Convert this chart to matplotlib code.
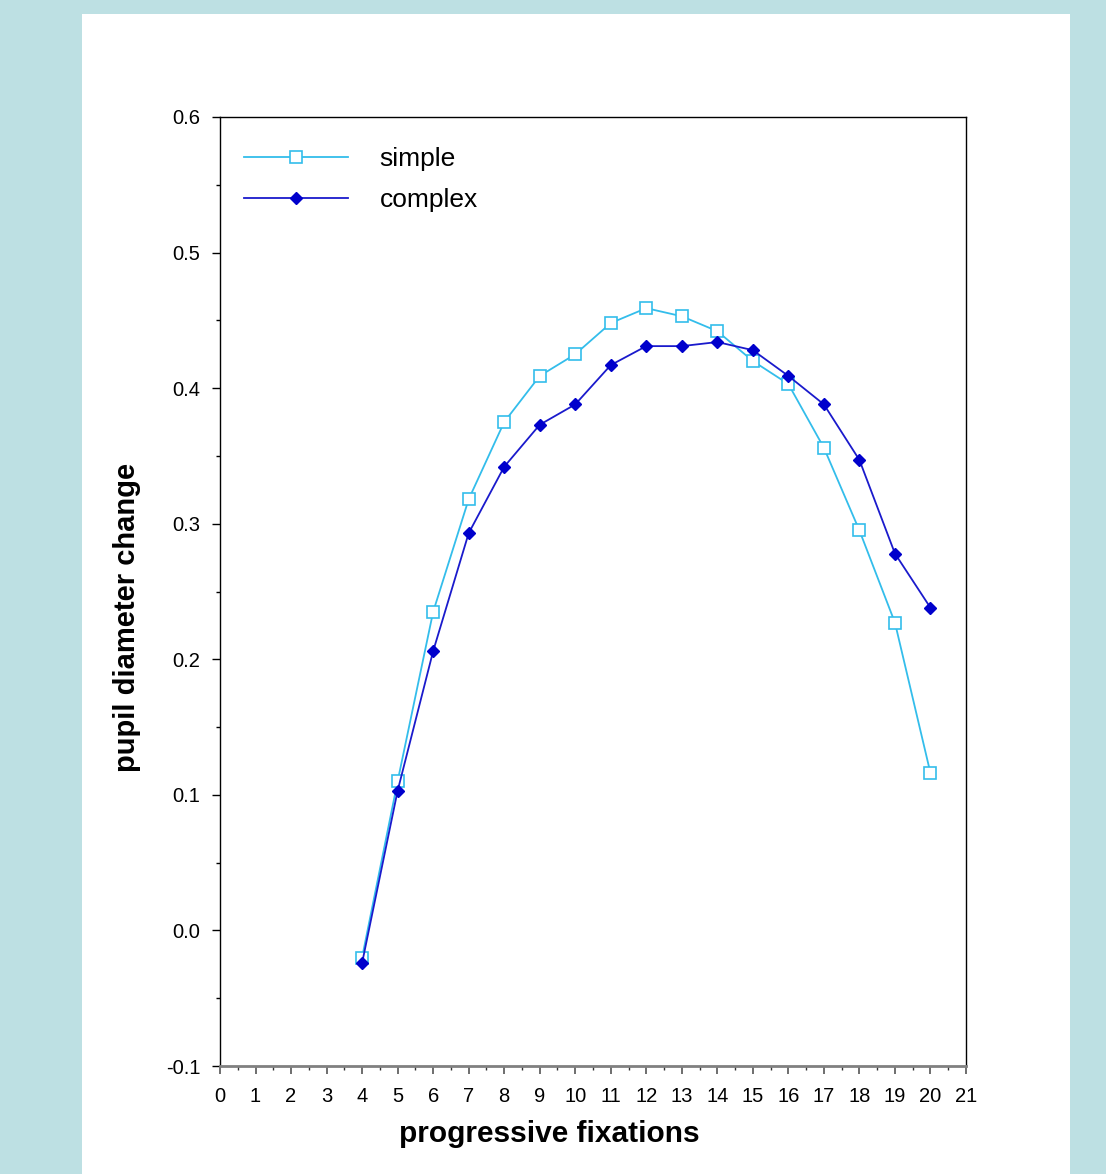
import matplotlib
matplotlib.use("Agg")
import matplotlib.pyplot as plt
from matplotlib.patches import Rectangle
from matplotlib.ticker import MultipleLocator

fixations = [4, 5, 6, 7, 8, 9, 10, 11, 12, 13, 14, 15, 16, 17, 18, 19, 20]
simple = [-0.020, 0.110, 0.235, 0.318, 0.375, 0.409, 0.425, 0.448, 0.459, 0.453,
          0.442, 0.420, 0.403, 0.356, 0.295, 0.227, 0.116]
complex_ = [-0.024, 0.103, 0.206, 0.293, 0.342, 0.373, 0.388, 0.417, 0.431, 0.431,
            0.434, 0.428, 0.409, 0.388, 0.347, 0.278, 0.238]
x_ticks = list(range(0, 22))
y_ticks = [-0.1, 0.0, 0.1, 0.2, 0.3, 0.4, 0.5, 0.6]

plt.rcParams['font.family'] = ['Liberation Sans', 'DejaVu Sans']

fig = plt.figure(figsize=(11.06, 11.74), dpi=100)
fig.patch.set_facecolor('#BDE0E3')
fig.patches.append(Rectangle((82 / 1106, 0), (1070 - 82) / 1106, 1 - 14 / 1174,
                             transform=fig.transFigure, facecolor='white',
                             edgecolor='none', zorder=-10))

ax = fig.add_axes([220 / 1106, 1 - 1066 / 1174, (966 - 220) / 1106, (1066 - 117) / 1174])
ax.set_zorder(1)
ax.set_facecolor('white')

ax.plot(fixations, simple, color='#33BDEB', lw=1.3, marker='s', markersize=8,
        markerfacecolor='white', markeredgecolor='#33BDEB', markeredgewidth=1.2,
        label='simple', zorder=3)
ax.plot(fixations, complex_, color='#1A1ACC', lw=1.3, marker='D', markersize=6,
        markerfacecolor='#0000CC', markeredgecolor='#0000CC',
        label='complex', zorder=4)

ax.set_xlim(0, 21)
ax.set_ylim(-0.1, 0.6)
ax.set_xticks(x_ticks)
ax.set_yticks(y_ticks)
ax.set_yticklabels([f"{v:.1f}" for v in y_ticks])
ax.xaxis.set_minor_locator(MultipleLocator(0.5))
ax.yaxis.set_minor_locator(MultipleLocator(0.05))

for s in ['top', 'right', 'left']:
    ax.spines[s].set_color('black')
    ax.spines[s].set_linewidth(1.0)
ax.spines['bottom'].set_color('#808080')
ax.spines['bottom'].set_linewidth(2.0)

ax.tick_params(axis='x', which='major', direction='out', length=6, width=1.2,
               color='#555555', labelsize=14.5, pad=9)
ax.tick_params(axis='x', which='minor', direction='out', length=3, width=1.0,
               color='#333333')
ax.tick_params(axis='y', which='major', direction='out', length=6, width=1.0,
               labelsize=14.5, pad=8)
ax.tick_params(axis='y', which='minor', direction='out', length=3, width=1.0)

ax.set_xlabel('progressive fixations', fontsize=21.5, fontweight='bold')
ax.xaxis.set_label_coords((549 - 220) / 746, -(1134 - 1066) / 949)
ax.xaxis.label.set_va('center')
ax.set_ylabel('pupil diameter change', fontsize=21, fontweight='bold')
ax.yaxis.set_label_coords(-(220 - 127) / 746, (1066 - 617) / 949)
ax.yaxis.label.set_va('center')

leg = ax.legend(loc='upper left', bbox_to_anchor=(0.018, 0.979), frameon=False,
                fontsize=19, handlelength=3.94, handletextpad=1.2,
                labelspacing=0.63, borderaxespad=0)

fig.savefig('out.png', dpi=100, facecolor=fig.get_facecolor())
